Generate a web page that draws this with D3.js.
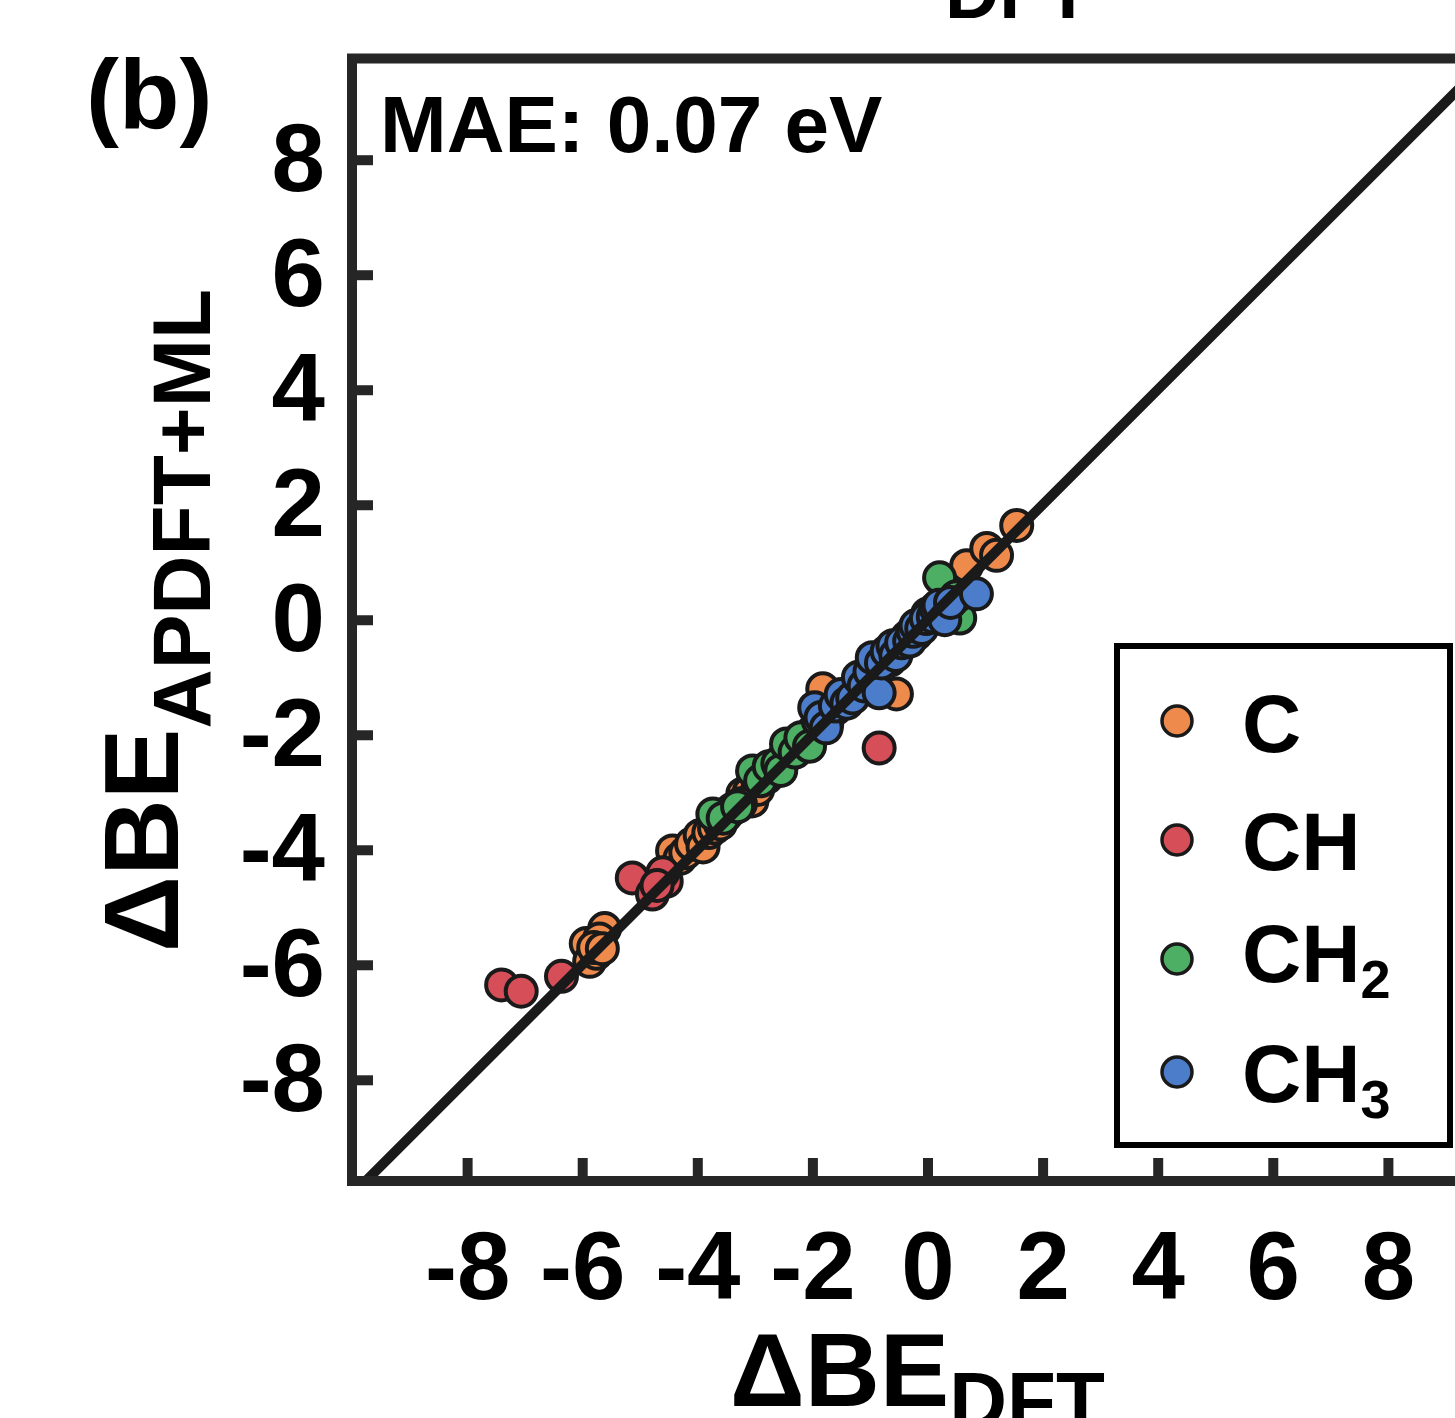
<!DOCTYPE html>
<html>
<head>
<meta charset="utf-8">
<script src="https://cdn.jsdelivr.net/npm/d3@7"></script>
<style>
  html, body { margin: 0; padding: 0; background: #ffffff; }
  svg { display: block; }
  text { font-family: "Liberation Sans", Arial, Helvetica, sans-serif; font-weight: bold; fill: #000; }
</style>
</head>
<body>
<svg id="chart" width="1455" height="1418"></svg>
<script>
// ---------- data ----------
const categories = ["C", "CH", "CH2", "CH3"];
const categoryLabels = [["C", ""], ["CH", ""], ["CH", "2"], ["CH", "3"]];
const categoryColors = ["#EE8A4B", "#D64E57", "#4DAF64", "#4C7DCB"];

const xTicks = [-8, -6, -4, -2, 0, 2, 4, 6, 8];
const yTicks = [-8, -6, -4, -2, 0, 2, 4, 6, 8];
const xDomain = [-10, 10];
const yDomain = [-9.76, 9.76];
const maeText = "MAE: 0.07 eV";

// [ΔBE_DFT, ΔBE_APDFT+ML]
const pointsC = [
  [-5.93, -5.63], [-5.87, -5.94], [-5.75, -5.80], [-5.61, -5.37], [-5.70, -5.55],
  [-5.80, -5.70], [-5.65, -5.72], [-4.43, -4.02], [-4.30, -4.15], [-4.20, -4.05],
  [-4.10, -3.90], [-3.95, -3.75], [-3.90, -3.95], [-3.80, -3.70], [-3.70, -3.62],
  [-3.60, -3.55], [-3.40, -3.30], [-3.21, -3.03], [-3.10, -3.00], [-3.05, -3.15],
  [-2.95, -2.95], [-2.80, -2.75], [-2.65, -2.62], [-2.50, -2.40], [-2.35, -2.32],
  [-2.20, -2.15], [-1.82, -1.20], [-1.70, -1.62], [-1.50, -1.45], [-1.10, -1.05],
  [-0.54, -1.29], [-0.50, -0.45], [-0.35, -0.30], [-0.20, -0.15], [0.10, 0.05],
  [0.40, 0.35], [0.68, 0.94], [1.03, 1.24], [1.20, 1.12], [1.55, 1.64]
];
const pointsCH = [
  [-7.40, -6.35], [-7.06, -6.46], [-6.36, -6.20], [-5.13, -4.49], [-4.78, -4.77],
  [-4.54, -4.55], [-4.60, -4.40], [-4.70, -4.62], [-3.50, -3.40], [-3.25, -3.20],
  [-2.70, -2.65], [-2.00, -1.95], [-1.30, -1.25], [-0.84, -2.23], [-0.70, -0.65],
  [-0.10, -0.10], [0.30, 0.25]
];
const pointsCH2 = [
  [-3.73, -3.38], [-3.55, -3.45], [-3.30, -3.25], [-3.04, -2.63], [-2.90, -2.80],
  [-2.75, -2.55], [-2.60, -2.50], [-2.55, -2.62], [-2.45, -2.16], [-2.30, -2.30],
  [-2.20, -2.05], [-2.05, -2.20], [-1.90, -1.75], [-1.75, -1.80], [-1.60, -1.55],
  [-1.40, -1.35], [-1.20, -1.10], [-0.90, -0.85], [-0.65, -0.70], [-0.50, -0.50],
  [-0.20, -0.25], [0.00, 0.10], [0.21, 0.73], [0.30, 0.20], [0.56, 0.03],
  [0.50, 0.40]
];
const pointsCH3 = [
  [-1.96, -1.53], [-1.85, -1.70], [-1.76, -1.88], [-1.60, -1.50], [-1.50, -1.30],
  [-1.40, -1.45], [-1.30, -1.36], [-1.20, -1.00], [-1.10, -1.15], [-1.00, -0.90],
  [-0.96, -0.66], [-0.84, -1.27], [-0.80, -0.75], [-0.70, -0.55], [-0.60, -0.45],
  [-0.55, -0.62], [-0.45, -0.40], [-0.31, -0.37], [-0.25, -0.20], [-0.20, -0.10],
  [-0.10, -0.15], [-0.02, 0.02], [0.10, 0.05], [0.15, 0.20], [0.20, 0.25],
  [0.30, 0.00], [0.40, 0.30], [0.85, 0.45]
];
const seriesPoints = [pointsC, pointsCH, pointsCH2, pointsCH3];

// ---------- layout ----------
const svg = d3.select("#chart");
const pLeft = 352, pRight = 1503, pTop = 58.5, pBottom = 1181;
const x = d3.scaleLinear().domain(xDomain).range([pLeft, pRight]);
const y = d3.scaleLinear().domain(yDomain).range([pBottom, pTop]);
const frameColor = "#262626";

svg.append("defs").append("clipPath").attr("id", "plotclip")
  .append("rect").attr("x", pLeft).attr("y", pTop)
  .attr("width", pRight - pLeft).attr("height", pBottom - pTop);

// points
const plot = svg.append("g").attr("clip-path", "url(#plotclip)");
seriesPoints.forEach((pts, i) => {
  plot.append("g").selectAll("circle").data(pts).join("circle")
    .attr("cx", d => x(d[0]))
    .attr("cy", d => y(d[1]))
    .attr("r", 15.5)
    .attr("fill", categoryColors[i])
    .attr("stroke", "#1a1a1a")
    .attr("stroke-width", 4);
});

// diagonal y = x
const lo = Math.max(xDomain[0], yDomain[0]), hi = Math.min(xDomain[1], yDomain[1]);
plot.append("line")
  .attr("x1", x(lo) - 8).attr("y1", y(lo) + 8)
  .attr("x2", x(hi)).attr("y2", y(hi))
  .attr("stroke", "#1a1a1a").attr("stroke-width", 10);

// axes
const yAxis = svg.append("g").attr("transform", `translate(${pLeft},0)`)
  .call(d3.axisLeft(y).tickValues(yTicks).tickSize(-21).tickPadding(27).tickFormat(d3.format("d")));
const xAxis = svg.append("g").attr("transform", `translate(0,${pBottom})`)
  .call(d3.axisBottom(x).tickValues(xTicks).tickSize(-23).tickPadding(50).tickFormat(d3.format("d")));
[xAxis, yAxis].forEach(g => {
  g.select(".domain").remove();
  g.selectAll(".tick line").attr("stroke", frameColor).attr("stroke-width", 10);
  g.selectAll(".tick text")
    .attr("font-family", "Liberation Sans, Arial, sans-serif")
    .attr("font-weight", "bold")
    .attr("font-size", 96)
    .attr("fill", "#000")
    .text(d => d < 0 ? "-" + Math.abs(d) : String(d));
});

// frame
svg.append("rect")
  .attr("x", pLeft).attr("y", pTop)
  .attr("width", pRight - pLeft).attr("height", pBottom - pTop)
  .attr("fill", "none").attr("stroke", frameColor).attr("stroke-width", 10);

// MAE annotation
svg.append("text").attr("x", 380).attr("y", 152).attr("font-size", 80).text(maeText);

// panel label
svg.append("text").attr("x", 86).attr("y", 128).attr("font-size", 99).text("(b)");

// top (clipped) title fragment
svg.append("text").attr("x", 945).attr("y", 18).attr("font-size", 75).text("DFT");

// x-axis label
const xl = svg.append("text").attr("x", 730).attr("y", 1406).attr("font-size", 104);
xl.append("tspan").text("ΔBE");
xl.append("tspan").attr("font-size", 80).attr("dy", 22).text("DFT");

// y-axis label
const yl = svg.append("text")
  .attr("transform", "translate(178,952) rotate(-90)")
  .attr("font-size", 106);
yl.append("tspan").text("ΔBE");
yl.append("tspan").attr("font-size", 82).attr("dy", 32).text("APDFT+ML");

// legend
const lg = svg.append("g");
lg.append("rect").attr("x", 1117).attr("y", 646).attr("width", 333).attr("height", 499)
  .attr("fill", "#fff").attr("stroke", "#000").attr("stroke-width", 6);
const legendY = [721, 840, 959, 1072];
const legendBase = [752, 870, 982, 1102];
categories.forEach((c, i) => {
  lg.append("circle").attr("cx", 1177).attr("cy", legendY[i]).attr("r", 15)
    .attr("fill", categoryColors[i]).attr("stroke", "#1a1a1a").attr("stroke-width", 3.5);
  const t = lg.append("text").attr("x", 1242).attr("y", legendBase[i]).attr("font-size", 82);
  t.append("tspan").text(categoryLabels[i][0]);
  if (categoryLabels[i][1]) {
    t.append("tspan").attr("font-size", 54).attr("dy", 16).text(categoryLabels[i][1]);
  }
});
</script>
</body>
</html>
